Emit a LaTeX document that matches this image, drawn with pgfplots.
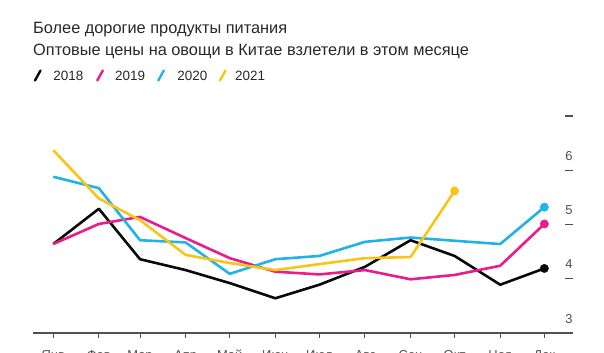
\documentclass[border=0pt]{standalone}
\usepackage{pgfplots}
\pgfplotsset{compat=1.18}
\usepackage{fontspec}
\setmainfont{Liberation Sans}
\definecolor{c18}{RGB}{10,10,10}
\definecolor{c19}{RGB}{232,28,140}
\definecolor{c20}{RGB}{32,178,232}
\definecolor{c21}{RGB}{248,196,22}
\definecolor{txt}{RGB}{40,40,40}
\definecolor{axc}{RGB}{80,80,80}
\begin{document}
\begin{tikzpicture}
% page frame: axis box south west sits at (0,0); page corner at (-32.7bp,-20bp)
\path[use as bounding box] (-32.7bp,-20bp) rectangle (571.3bp,333bp);
\begin{axis}[
  scale only axis, width=540.3bp, height=217bp,
  xmin=-14, xmax=353.5, ymin=3, ymax=7,
  axis x line*=bottom, axis y line*=right,
  x axis line style={draw=axc, line width=1.1bp, -},
  y axis line style={draw=none},
  xtick={0,31,59,90,120,151,181,212,243,273,304,334},
  xticklabels={Янв,Фев,Мар,Апр,Май,Июн,Июл,Авг,Сен,Окт,Ноя,Дек},
  ytick={3,4,5,6,7},
  yticklabels={3,4,5,6,{}},
  xtick align=outside, ytick align=inside,
  xtick style={draw=axc, line width=1bp, /pgfplots/major tick length=5bp},
  ytick style={draw=axc, line width=1.1bp, /pgfplots/major tick length=8bp},
  ticklabel style={font=\fontsize{13}{15}\selectfont, text=axc},
  xticklabel style={anchor=base, yshift=-22.5bp},
  yticklabel style={anchor=base, xshift=-4bp, yshift=10bp},
  /pgf/number format/assume math mode=true,
  clip=false,
  line join=round,
]
\addplot[c18, line width=2.6bp, mark=none] coordinates {
 (0,4.64) (31,5.29) (59,4.36) (90,4.16) (120,3.92) (151,3.64) (181,3.89) (212,4.22) (243,4.71) (273,4.42) (304,3.89) (334,4.19)};
\addplot[c19, line width=2.6bp, mark=none] coordinates {
 (0,4.64) (31,5.01) (59,5.14) (90,4.75) (120,4.38) (151,4.13) (181,4.08) (212,4.16) (243,3.99) (273,4.07) (304,4.24) (334,5.01)};
\addplot[c20, line width=2.6bp, mark=none] coordinates {
 (0,5.88) (31,5.67) (59,4.71) (90,4.67) (120,4.09) (151,4.36) (181,4.42) (212,4.68) (243,4.76) (273,4.70) (304,4.64) (334,5.32)};
\addplot[c21, line width=2.6bp, mark=none] coordinates {
 (0,6.37) (31,5.48) (59,5.08) (90,4.44) (120,4.29) (151,4.16) (181,4.27) (212,4.38) (243,4.40) (273,5.62)};
% end markers
\addplot[only marks, mark=*, mark size=4.2bp, c18] coordinates {(334,4.19)};
\addplot[only marks, mark=*, mark size=4.2bp, c19] coordinates {(334,5.01)};
\addplot[only marks, mark=*, mark size=4.2bp, c20] coordinates {(334,5.32)};
\addplot[only marks, mark=*, mark size=4.2bp, c21] coordinates {(273,5.62)};
\end{axis}
\begin{scope}[shift={(-32.7bp,-20bp)}, x=1bp, y=1bp]
% titles
\node[anchor=base west, inner sep=0pt, text=txt, font=\fontsize{16.4}{19}\selectfont] at (33,320) {Более дорогие продукты питания};
\node[anchor=base west, inner sep=0pt, text=txt, font=\fontsize{16.4}{19}\selectfont] at (33,298) {Оптовые цены на овощи в Китае взлетели в этом месяце};
% legend
\foreach \c/\xs/\xt/\lab in {c18/35/53.3/2018, c19/97.3/115/2019, c20/158.3/177.3/2020, c21/220/235/2021}{
  \draw[\c, line width=2.4bp, line cap=round] (\xs,272.5) -- (\xs+5.5,282.5);
  \node[anchor=base west, inner sep=0pt, text=txt, font=\fontsize{13.5}{16}\selectfont] at (\xt,272.5) {\lab};
}
\end{scope}
\end{tikzpicture}
\end{document}
